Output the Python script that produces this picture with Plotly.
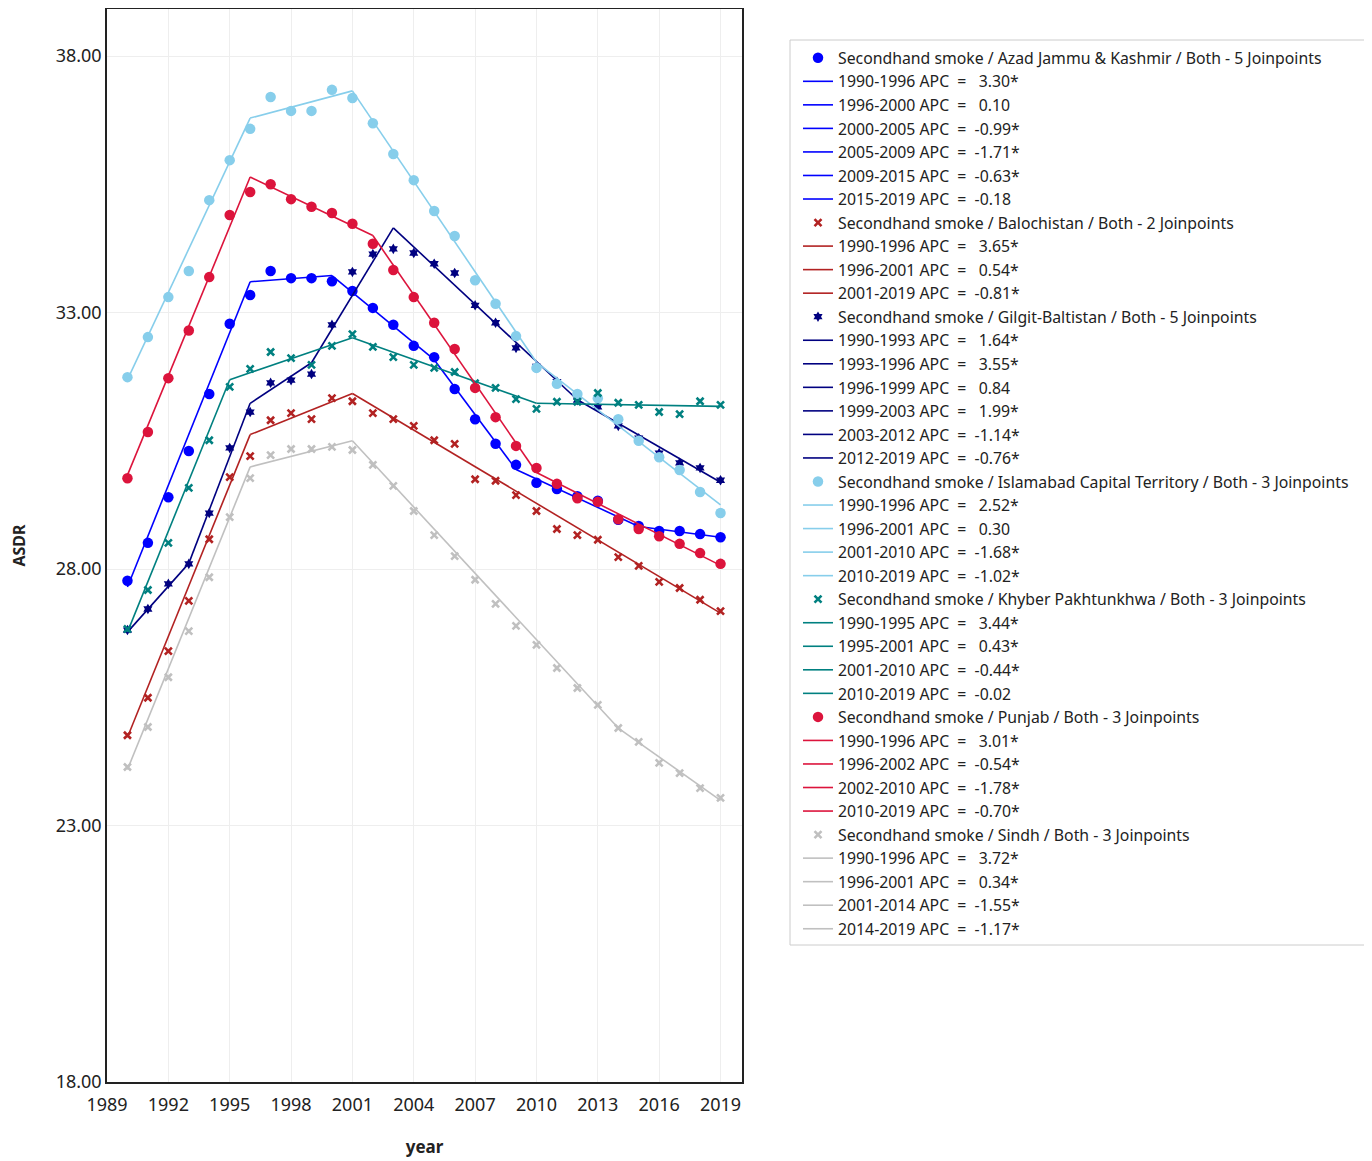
import plotly.graph_objects as go

years = list(range(1990, 2020))

ajk_obs = [27.77, 28.51, 29.40, 30.30, 31.41, 32.78, 33.34, 33.81, 33.67, 33.67,
           33.61, 33.42, 33.09, 32.76, 32.35, 32.13, 31.51, 30.92, 30.44, 30.03,
           29.68, 29.56, 29.42, 29.33, 28.96, 28.84, 28.74, 28.74, 28.68, 28.62]
bal_obs = [24.76, 25.49, 26.40, 27.38, 28.58, 29.79, 30.20, 30.90, 31.04, 30.92,
           31.33, 31.27, 31.04, 30.92, 30.79, 30.51, 30.44, 29.75, 29.72, 29.44,
           29.13, 28.78, 28.66, 28.57, 28.23, 28.06, 27.75, 27.63, 27.40, 27.18]
gb_obs = [26.81, 27.22, 27.71, 28.10, 29.09, 30.36, 31.06, 31.63, 31.68, 31.80,
          32.76, 33.79, 34.14, 34.24, 34.16, 33.95, 33.77, 33.14, 32.80, 32.31,
          31.95, 31.65, 31.29, 31.16, 30.79, 30.55, 30.26, 30.07, 29.97, 29.73]
ict_obs = [31.74, 32.52, 33.30, 33.81, 35.19, 35.97, 36.58, 37.20, 36.93, 36.93,
           37.34, 37.18, 36.69, 36.09, 35.58, 34.98, 34.49, 33.63, 33.17, 32.54,
           31.92, 31.61, 31.41, 31.33, 30.92, 30.50, 30.18, 29.93, 29.50, 29.09]
kp_obs = [26.83, 27.59, 28.51, 29.58, 30.51, 31.55, 31.90, 32.23, 32.11, 31.98,
          32.35, 32.58, 32.33, 32.13, 31.98, 31.92, 31.84, 31.62, 31.53, 31.31,
          31.12, 31.26, 31.26, 31.43, 31.24, 31.20, 31.06, 31.02, 31.27, 31.20]
pun_obs = [29.77, 30.67, 31.72, 32.65, 33.69, 34.90, 35.35, 35.50, 35.21, 35.06,
           34.94, 34.73, 34.34, 33.83, 33.30, 32.80, 32.29, 31.53, 30.96, 30.40,
           29.97, 29.66, 29.38, 29.31, 28.97, 28.78, 28.64, 28.49, 28.31, 28.10]
sin_obs = [24.14, 24.92, 25.89, 26.79, 27.84, 29.01, 29.77, 30.22, 30.34, 30.34,
           30.38, 30.32, 30.03, 29.62, 29.13, 28.66, 28.25, 27.79, 27.32, 26.89,
           26.52, 26.07, 25.68, 25.35, 24.90, 24.63, 24.22, 24.02, 23.73, 23.54]

# ---- joinpoint model: knot years, fitted values at knots, APC labels ----
ajk_knots = [1990, 1996, 2000, 2005, 2009, 2015, 2019]
ajk_fit = [27.65, 33.60, 33.72, 32.08, 29.94, 28.83, 28.62]
ajk_apc = ["3.30*", "0.10", "-0.99*", "-1.71*", "-0.63*", "-0.18"]

bal_knots = [1990, 1996, 2001, 2019]
bal_fit = [24.72, 30.62, 31.42, 27.14]
bal_apc = ["3.65*", "0.54*", "-0.81*"]

gb_knots = [1990, 1993, 1996, 1999, 2003, 2012, 2019]
gb_fit = [26.77, 28.11, 31.23, 32.02, 34.65, 31.30, 29.69]
gb_apc = ["1.64*", "3.55*", "0.84", "1.99*", "-1.14*", "-0.76*"]

ict_knots = [1990, 1996, 2001, 2010, 2019]
ict_fit = [31.69, 36.79, 37.32, 32.03, 29.25]
ict_apc = ["2.52*", "0.30", "-1.68*", "-1.02*"]

kp_knots = [1990, 1995, 2001, 2010, 2019]
kp_fit = [26.77, 31.69, 32.51, 31.23, 31.17]
kp_apc = ["3.44*", "0.43*", "-0.44*", "-0.02"]

pun_knots = [1990, 1996, 2002, 2010, 2019]
pun_fit = [29.83, 35.64, 34.50, 29.88, 28.07]
pun_apc = ["3.01*", "-0.54*", "-1.78*", "-0.70*"]

sin_knots = [1990, 1996, 2001, 2014, 2019]
sin_fit = [24.09, 29.99, 30.50, 24.90, 23.49]
sin_apc = ["3.72*", "0.34*", "-1.55*", "-1.17*"]

x_ticks = list(range(1989, 2020, 3))
y_ticks = [18, 23, 28, 33, 38]

series = [
    ("Secondhand smoke / Azad Jammu & Kashmir / Both - 5 Joinpoints", ajk_obs, ajk_knots, ajk_fit, ajk_apc,
     "#0000FF", "circle", 10.5),
    ("Secondhand smoke / Balochistan / Both - 2 Joinpoints", bal_obs, bal_knots, bal_fit, bal_apc,
     "#B22222", "x-thin-open", 7),
    ("Secondhand smoke / Gilgit-Baltistan / Both - 5 Joinpoints", gb_obs, gb_knots, gb_fit, gb_apc,
     "#000080", "hexagram", 8),
    ("Secondhand smoke / Islamabad Capital Territory / Both - 3 Joinpoints", ict_obs, ict_knots, ict_fit, ict_apc,
     "#87CEEB", "circle", 10.5),
    ("Secondhand smoke / Khyber Pakhtunkhwa / Both - 3 Joinpoints", kp_obs, kp_knots, kp_fit, kp_apc,
     "#008080", "x-thin-open", 7),
    ("Secondhand smoke / Punjab / Both - 3 Joinpoints", pun_obs, pun_knots, pun_fit, pun_apc,
     "#DC143C", "circle", 10.5),
    ("Secondhand smoke / Sindh / Both - 3 Joinpoints", sin_obs, sin_knots, sin_fit, sin_apc,
     "#C0C0C0", "x-thin-open", 7),
]

NB = "\u00a0"
fig = go.Figure()
for name, obs, knots, fit, apcs, color, symbol, msize in series:
    mk = dict(color=color, size=msize, symbol=symbol)
    if symbol.startswith("x-thin"):
        mk["line"] = dict(color=color, width=2.6)
    fig.add_trace(go.Scatter(x=years, y=obs, mode="markers", name=name, marker=mk))
    for i, apc in enumerate(apcs):
        pad = NB if not apc.startswith("-") else ""
        label = f"{knots[i]}-{knots[i+1]} APC{NB}{NB}={NB}{NB}{pad}{apc}"
        fig.add_trace(go.Scatter(
            x=[knots[i], knots[i + 1]], y=[fit[i], fit[i + 1]],
            mode="lines", name=label, line=dict(color=color, width=1.6)))

# page is offset by ~8px (body margin); figure coords = page coords - 8
OFF = 8
L, R, T, B = 107 - OFF, 1372 - (742 - OFF), 1, 1161 - (1082 - OFF)
PW = 1372 - L - R
PH = 1161 - T - B


def px_to_paper_x(px):
    return (px - OFF - L) / PW


def px_to_paper_y(py):
    return 1 - (py - OFF - T) / PH


FONT = "Noto Sans"
fig.update_layout(
    width=1372, height=1161,
    paper_bgcolor="white", plot_bgcolor="white",
    font=dict(family=FONT, size=16, color="#222222"),
    margin=dict(l=L, r=R, t=T, b=B, autoexpand=False),
    legend=dict(
        x=px_to_paper_x(798), y=px_to_paper_y(41), xanchor="left", yanchor="top",
        bgcolor="rgba(0,0,0,0)", borderwidth=0,
        font=dict(family=FONT, size=15.8, color="#222222"),
        traceorder="normal", itemwidth=30,
    ),
    shapes=[dict(type="rect", xref="paper", yref="paper",
                 x0=px_to_paper_x(790), x1=px_to_paper_x(1400),
                 y0=px_to_paper_y(945), y1=px_to_paper_y(40),
                 line=dict(color="#cccccc", width=1), fillcolor="white", layer="below")],
    showlegend=True,
)
fig.update_xaxes(
    range=[1989, 2020.05], tickvals=x_ticks,
    showgrid=True, gridcolor="#eeeeee", gridwidth=1,
    showline=True, linecolor="#222222", linewidth=1.5, mirror=True,
    zeroline=False, ticks="", tickfont=dict(size=18), ticklabelstandoff=6,
    title=dict(text="<b>year</b>", font=dict(size=17), standoff=26),
)
fig.update_yaxes(
    range=[18, 38 + (56 - OFF - T) / 51.3], tickvals=y_ticks, tickformat=".2f",
    showgrid=True, gridcolor="#eeeeee", gridwidth=1,
    showline=True, linecolor="#222222", linewidth=1.5, mirror=True,
    zeroline=False, ticks="", tickfont=dict(size=18),
    title=dict(text="<b>ASDR</b>", font=dict(size=16), standoff=30),
)
fig.write_html("out.html")
